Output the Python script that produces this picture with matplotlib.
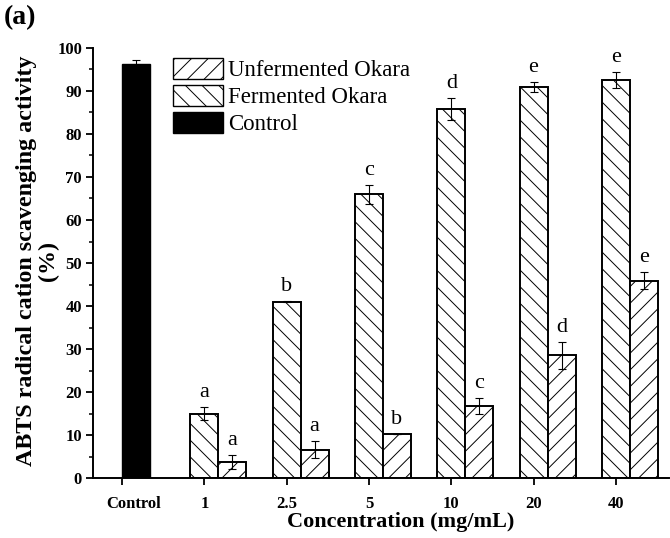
import numpy as np
import matplotlib.pyplot as plt
import matplotlib.transforms as mtransforms
from matplotlib.patches import Patch

plt.rcParams['font.family'] = ['Liberation Serif', 'DejaVu Serif']
plt.rcParams['hatch.linewidth'] = 0.7

# data
conc = ['1', '2.5', '5', '10', '20', '40']
control_val = 96.2
control_err = 1.0
tall_vals = [15.0, 41.0, 66.0, 85.8, 90.9, 92.5]
tall_errs = [1.5, 0.15, 2.2, 2.5, 1.2, 1.9]
tall_letters = ['a', 'b', 'c', 'd', 'e', 'e']
short_vals = [3.8, 6.6, 10.3, 16.7, 28.5, 45.9]
short_errs = [1.6, 2.0, 0.0, 1.8, 3.1, 2.0]
short_letters = ['a', 'a', 'b', 'c', 'd', 'e']

fig = plt.figure(figsize=(6.7, 5.38), dpi=100)
ax = fig.add_axes([0.139, 0.1115, 0.860, 0.7993])

w = 0.34
x = np.arange(1, len(conc) + 1)
ekw = dict(ecolor='black', elinewidth=0.8, capsize=3, capthick=0.8)

ax.bar(w / 2, control_val, w, yerr=control_err, color='black', edgecolor='black',
       error_kw=ekw, zorder=2)
ax.bar(x, tall_vals, w, yerr=tall_errs, color='white', edgecolor='black',
       linewidth=1.4, hatch='\\\\', error_kw=ekw, zorder=2)
ax.bar(x + w, short_vals, w, yerr=short_errs, color='white', edgecolor='black',
       linewidth=1.4, hatch='//', error_kw=ekw, zorder=2)

# significance letters
for xi, v, e, t in zip(x, tall_vals, tall_errs, tall_letters):
    ax.text(xi, v + e + 1.2, t, ha='center', va='bottom', fontsize=16)
for xi, v, e, t in zip(x + w, short_vals, short_errs, short_letters):
    ax.text(xi, v + e + 1.2, t, ha='center', va='bottom', fontsize=16)

ax.set_xlim(-0.352, 6.65)
ax.set_ylim(0, 100)
ax.set_xticks(np.arange(0, len(conc) + 1))
ax.set_xticklabels(['Control'] + conc)
ax.set_yticks(np.arange(0, 101, 10))
ax.set_yticks(np.arange(5, 100, 10), minor=True)
ax.tick_params(axis='both', which='major', direction='out', length=5, width=1.3,
               labelsize=12)
ax.tick_params(axis='x', which='major', pad=8)
ax.tick_params(axis='y', which='major', pad=3)
ax.tick_params(axis='y', which='minor', direction='out', length=3, width=1.1)
for lab in ax.get_xticklabels() + ax.get_yticklabels():
    lab.set_fontweight('bold')
# the Control label sits a little right of its tick
ctrl = ax.get_xticklabels()[0]
ctrl.set_transform(ctrl.get_transform() +
                   mtransforms.ScaledTranslation(8 / 72, 0, fig.dpi_scale_trans))

for s in ['top', 'right']:
    ax.spines[s].set_visible(False)
for s in ['left', 'bottom']:
    ax.spines[s].set_linewidth(1.4)

ax.set_xlabel('Concentration (mg/mL)', fontsize=16, fontweight='bold')
ax.xaxis.set_label_coords(0.533, -0.08)
ax.set_ylabel('ABTS radical cation scavenging activity\n(%)', fontsize=17.3,
              fontweight='bold', linespacing=1.05)
ax.yaxis.set_label_coords(-0.06, 0.505)

handles = [Patch(facecolor='white', edgecolor='black', hatch='//', label='Unfermented Okara'),
           Patch(facecolor='white', edgecolor='black', hatch='\\\\', label='Fermented Okara'),
           Patch(facecolor='black', edgecolor='black', label='Control')]
ax.legend(handles=handles, loc='upper left', bbox_to_anchor=(0.139, 0.977), frameon=False,
          fontsize=16.5, handlelength=2.18, handleheight=1.05, handletextpad=0.22,
          labelspacing=0.15, borderaxespad=0, borderpad=0)

fig.text(0.006, 0.99, '(a)', fontsize=20, fontweight='bold', va='top', ha='left')

fig.savefig('out.png', dpi=100)
